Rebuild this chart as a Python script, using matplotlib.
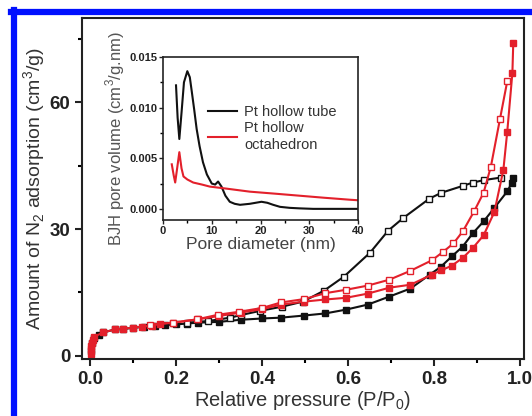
import matplotlib
matplotlib.use('Agg')
import matplotlib.pyplot as plt
from matplotlib.lines import Line2D

plt.rcParams['font.family'] = ['Liberation Sans', 'DejaVu Sans']
plt.rcParams['mathtext.fontset'] = 'custom'
plt.rcParams['mathtext.rm'] = 'Liberation Sans'

# isoterma N2 - Pt hollow tube (negro)
tubeAdsP = [0.002, 0.005, 0.01, 0.02, 0.03, 0.058, 0.077, 0.1, 0.125, 0.15, 0.175, 0.2, 0.225,
            0.25, 0.3, 0.35, 0.4, 0.444, 0.498, 0.547, 0.595, 0.646, 0.696, 0.745, 0.79, 0.815,
            0.841, 0.866, 0.89, 0.915, 0.94, 0.97, 0.981, 0.984]
tubeAdsV = [1.0, 3.0, 4.2, 5.0, 5.5, 6.2, 6.3, 6.6, 6.8, 7.0, 7.2, 7.4, 7.6,
            7.8, 8.0, 8.5, 8.8, 9.0, 9.5, 10.0, 10.9, 12.1, 14.0, 15.9, 19.2, 21.0,
            23.5, 25.8, 29.0, 31.8, 35.0, 38.9, 41.0, 42.2]
tubeDesP = [0.956, 0.916, 0.89, 0.866, 0.817, 0.789, 0.728, 0.693, 0.651, 0.59, 0.544,
            0.495, 0.446, 0.395, 0.35, 0.326, 0.275, 0.225]
tubeDesV = [42.2, 41.6, 41.0, 40.2, 38.6, 37.2, 32.6, 29.6, 24.4, 18.7, 15.4,
            12.8, 11.6, 10.6, 9.6, 9.0, 8.2, 7.8]

# isoterma N2 - Pt hollow octahedron (rojo)
octAdsP = [0.001, 0.002, 0.003, 0.004, 0.006, 0.008, 0.03, 0.058, 0.077, 0.1, 0.12, 0.144, 0.163,
           0.193, 0.25, 0.3, 0.35, 0.4, 0.444, 0.498, 0.547, 0.595, 0.646, 0.696, 0.745, 0.795,
           0.816, 0.841, 0.867, 0.89, 0.915, 0.94, 0.961, 0.97, 0.982, 0.984]
octAdsV = [0.3, 1.5, 2.3, 3.0, 3.8, 4.4, 5.5, 6.2, 6.4, 6.6, 6.9, 7.1, 7.6,
           7.8, 8.6, 9.4, 10.2, 11.0, 12.1, 12.8, 13.3, 13.7, 14.7, 16.1, 16.8, 19.2,
           20.2, 21.3, 23.2, 25.5, 28.5, 34.0, 44.0, 53.0, 67.0, 74.0]
octDesP = [0.97, 0.953, 0.932, 0.915, 0.893, 0.867, 0.845, 0.821, 0.795, 0.745, 0.696,
           0.646, 0.595, 0.547, 0.498, 0.444, 0.4, 0.347, 0.298, 0.249, 0.193, 0.14]
octDesV = [65.0, 56.0, 44.8, 38.6, 34.2, 29.5, 26.6, 24.6, 22.6, 20.1, 18.0,
           16.6, 15.6, 14.8, 13.4, 12.6, 11.3, 10.4, 9.7, 8.6, 7.8, 7.3]

# distribución BJH (inset)
bjhTubeD = [2.67, 3.0, 3.35, 3.8, 4.3, 4.99, 5.5, 5.9, 6.4, 6.9, 7.5, 8.2, 9.0, 10.0, 10.7,
            11.3, 12.0, 12.8, 13.7, 14.7, 15.8, 17.8, 19.0, 20.2, 21.4, 22.6, 24.0, 26.0,
            28.0, 30.8, 35.0, 40.0]
bjhTubeV = [0.0122, 0.0090, 0.0069, 0.0095, 0.0125, 0.0136, 0.0130, 0.0116, 0.0098, 0.0079,
            0.0062, 0.0046, 0.0034, 0.0025, 0.0024, 0.0027, 0.0022, 0.0013, 0.0007, 0.0005,
            0.0004, 0.0005, 0.0006, 0.0007, 0.0006, 0.0004, 0.0002, 0.0001, 0.00005, 0.0,
            0.0, 0.0]
bjhOctD = [1.8, 2.2, 2.5, 2.9, 3.35, 3.8, 4.2, 5.0, 6.2, 8.0, 9.6, 13.0, 17.8, 23.0, 28.0,
           33.0, 38.4, 40.0]
bjhOctV = [0.0044, 0.0033, 0.0026, 0.0040, 0.0056, 0.0040, 0.0032, 0.0029, 0.0026, 0.0024,
           0.0022, 0.0020, 0.0017, 0.0015, 0.0013, 0.0011, 0.0009, 0.00085]

black = '#111111'
red = '#e3202b'

fig = plt.figure(figsize=(5.32, 4.16), dpi=100)

# marco azul (arriba e izquierda)
fig.add_artist(Line2D([11/532, 1.0], [1 - 12/416, 1 - 12/416], color='#0010ff', lw=4.5))
fig.add_artist(Line2D([13.5/532, 13.5/532], [0.0, 1 - 10/416], color='#0010ff', lw=4.5))

ax = fig.add_axes([82/532, 1 - 359/416, (524 - 82)/532, (359 - 18)/416])

ms = 5
ax.plot(tubeAdsP, tubeAdsV, '-s', color=black, mfc=black, mec=black, ms=ms, lw=1.5)
ax.plot(tubeDesP, tubeDesV, '-s', color=black, mfc='white', mec=black, ms=ms, lw=1.5, mew=1)
ax.plot(octAdsP, octAdsV, '-s', color=red, mfc=red, mec=red, ms=ms, lw=1.5)
ax.plot(octDesP, octDesV, '-s', color=red, mfc='white', mec=red, ms=ms, lw=1.5, mew=1)

ax.set_xlim(-0.019, 1.009)
ax.set_ylim(-0.8, 80)
ax.set_xticks([0.0, 0.2, 0.4, 0.6, 0.8, 1.0])
ax.set_xticks([0.1, 0.3, 0.5, 0.7, 0.9], minor=True)
ax.set_yticks([0, 30, 60])
ax.set_yticks([15, 45, 75], minor=True)
ax.set_xticklabels(['0.0', '0.2', '0.4', '0.6', '0.8', '1.0'])
ax.tick_params(which='major', direction='out', length=5, width=1.5, labelsize=13.5,
               colors='#222222', top=False, right=False)
ax.tick_params(which='minor', direction='out', length=3, width=1.5, top=False, right=False)
for lab in ax.get_xticklabels() + ax.get_yticklabels():
    lab.set_fontweight('bold')
for sp in ax.spines.values():
    sp.set_linewidth(1.5)
    sp.set_color('#222222')
ax.set_xlabel('Relative pressure (P/P$_0$)', fontsize=14.5, color='#333333', labelpad=1)
ax.set_ylabel('Amount of N$_2$ adsorption (cm$^3$/g)', fontsize=14, color='#333333', labelpad=1)

# inset BJH
axi = fig.add_axes([163/532, 1 - 220/416, (358 - 163)/532, (220 - 57)/416])
axi.plot(bjhTubeD, bjhTubeV, color=black, lw=1.5, label='Pt hollow tube')
axi.plot(bjhOctD, bjhOctV, color=red, lw=1.5, label='Pt hollow\noctahedron')
axi.set_xlim(0, 40)
axi.set_ylim(-0.0011, 0.015)
axi.set_xticks([0, 10, 20, 30, 40])
axi.set_xticks([5, 15, 25, 35], minor=True)
axi.set_yticks([0.0, 0.005, 0.010, 0.015])
axi.set_yticks([0.0025, 0.0075, 0.0125], minor=True)
axi.set_yticklabels(['0.000', '0.005', '0.010', '0.015'])
axi.tick_params(which='major', direction='out', length=3, width=1, labelsize=8,
                colors='#222222', pad=1, top=False, right=False)
axi.tick_params(which='minor', direction='out', length=2, width=1, top=False, right=False)
for lab in axi.get_xticklabels() + axi.get_yticklabels():
    lab.set_fontweight('bold')
for sp in axi.spines.values():
    sp.set_linewidth(1.2)
    sp.set_color('#222222')
axi.set_xlabel('Pore diameter (nm)', fontsize=12.5, color='#444444', labelpad=1)
axi.set_ylabel('BJH pore volume (cm$^3$/g.nm)', fontsize=12, color='#555555', labelpad=2)
leg = axi.legend(loc='upper left', bbox_to_anchor=(0.2, 0.74), frameon=False,
                 fontsize=10.5, handlelength=2.0, handletextpad=0.5, labelspacing=0.15,
                 borderaxespad=0)
for t in leg.get_texts():
    t.set_color('#333333')

fig.savefig('out.png', dpi=100)
